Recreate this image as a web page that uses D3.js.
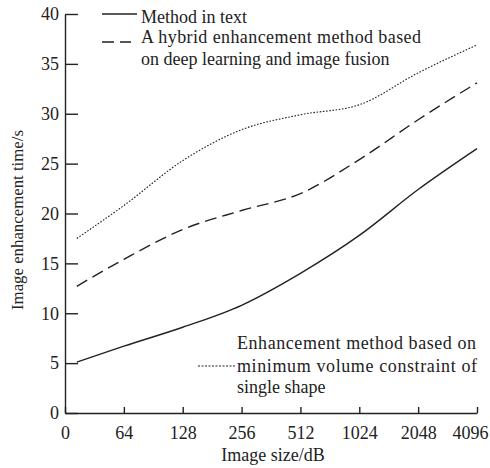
<!DOCTYPE html>
<html>
<head>
<meta charset="utf-8">
<script src="https://cdn.jsdelivr.net/npm/d3@7"></script>
<style>
    body { margin: 0; background: #fff; }
    svg text { font-family: 'Liberation Serif', 'Times New Roman', serif; fill: #222; }
</style>
</head>
<body>
<div id="chartContainer"></div>
<script>
var xLabels      = ['0', '64', '128', '256', '512', '1024', '2048', '4096'],
    xSteps       = [0.2, 1, 2, 3, 4, 5, 6, 7],          // position of each reading along the size axis
    yTicks       = [0, 5, 10, 15, 20, 25, 30, 35, 40],
    methodInText = [5.1, 6.7, 8.6, 10.8, 14.0, 17.8, 22.4, 26.5],
    hybridMethod = [12.7, 15.4, 18.4, 20.3, 22.0, 25.4, 29.4, 33.1],
    volumeMethod = [17.5, 20.8, 25.3, 28.4, 29.9, 30.9, 34.1, 36.9];

var width  = 490,
    height = 468,
    ink    = '#222',
    svg    = d3.select('#chartContainer').append('svg')
        .attr('width', width)
        .attr('height', height);

var x = d3.scaleLinear().domain([0, xLabels.length - 1]).range([65, 477]),
    y = d3.scaleLinear().domain([0, 40]).range([413, 14]);

var series = [
    { name: 'text',   values: methodInText, dash: null,      w: 1.4 },
    { name: 'hybrid', values: hybridMethod, dash: '12,6',    w: 1.4 },
    { name: 'volume', values: volumeMethod, dash: '1.6,1.6', w: 1.1 }
];

// axes
var xAxis = d3.axisBottom(x)
    .tickValues(d3.range(xLabels.length))
    .tickFormat(function(d) { return xLabels[d]; })
    .tickSizeInner(-6)
    .tickSizeOuter(0)
    .tickPadding(13);

var yAxis = d3.axisLeft(y)
    .tickValues(yTicks)
    .tickSizeInner(-13)
    .tickSizeOuter(0)
    .tickPadding(6);

function styleAxis(g) {
    g.selectAll('path, line').attr('stroke', ink).attr('stroke-width', 1.4);
    g.selectAll('text')
        .attr('fill', ink)
        .style('font-family', "'Liberation Serif', serif")
        .style('font-size', '18px');
}

svg.append('g')
    .attr('transform', 'translate(0,' + y(0) + ')')
    .call(xAxis)
    .call(styleAxis)
    .selectAll('.tick:last-of-type text')
    .attr('dx', -7);

svg.append('g')
    .attr('transform', 'translate(' + x(0) + ',0)')
    .call(yAxis)
    .call(styleAxis);

// axis titles
svg.append('text')
    .attr('x', 273)
    .attr('y', 461)
    .attr('text-anchor', 'middle')
    .style('font-size', '18px')
    .text('Image size/dB');

svg.append('text')
    .attr('transform', 'translate(23,220) rotate(-90)')
    .attr('text-anchor', 'middle')
    .attr('textLength', 180)
    .attr('lengthAdjust', 'spacingAndGlyphs')
    .style('font-size', '17px')
    .text('Image enhancement time/s');

// lines
var line = d3.line()
    .x(function(d, i) { return x(xSteps[i]); })
    .y(function(d) { return y(d); })
    .curve(d3.curveMonotoneX);

svg.selectAll('path.series')
    .data(series)
    .enter()
    .append('path')
    .attr('class', 'series')
    .attr('fill', 'none')
    .attr('stroke', ink)
    .attr('stroke-width', function(d) { return d.w; })
    .attr('stroke-dasharray', function(d) { return d.dash; })
    .attr('d', function(d) { return line(d.values); });

// legends: two entries at the top, one over the axis at the bottom right
var legends = [
    { sample: series[0], x1: 102, x2: 137, ly: 14, tx: 141, lines: [['Method in text', 23, null]] },
    { sample: series[1], x1: 102, x2: 131, ly: 42, tx: 141, lines: [
        ['A hybrid enhancement method based', 43, 280],
        ['on deep learning and image fusion', 65, null]] },
    { sample: series[2], x1: 198, x2: 236, ly: 366, tx: 237, lines: [
        ['Enhancement method based on', 349, 239],
        ['minimum volume constraint of', 372, 240],
        ['single shape', 393, null]] }
];

legends.forEach(function(l, i) {
    svg.append('line')
        .attr('x1', l.x1).attr('x2', l.x2)
        .attr('y1', l.ly).attr('y2', l.ly)
        .attr('stroke', ink)
        .attr('stroke-width', l.sample.w)
        .attr('stroke-dasharray', i === 2 ? '2,1.5' : l.sample.dash);
    l.lines.forEach(function(t) {
        var txt = svg.append('text')
            .attr('x', l.tx)
            .attr('y', t[1])
            .style('font-size', '18px')
            .text(t[0]);
        if (t[2]) txt.attr('textLength', t[2]).attr('lengthAdjust', 'spacing');
    });
});
</script>
</body>
</html>
